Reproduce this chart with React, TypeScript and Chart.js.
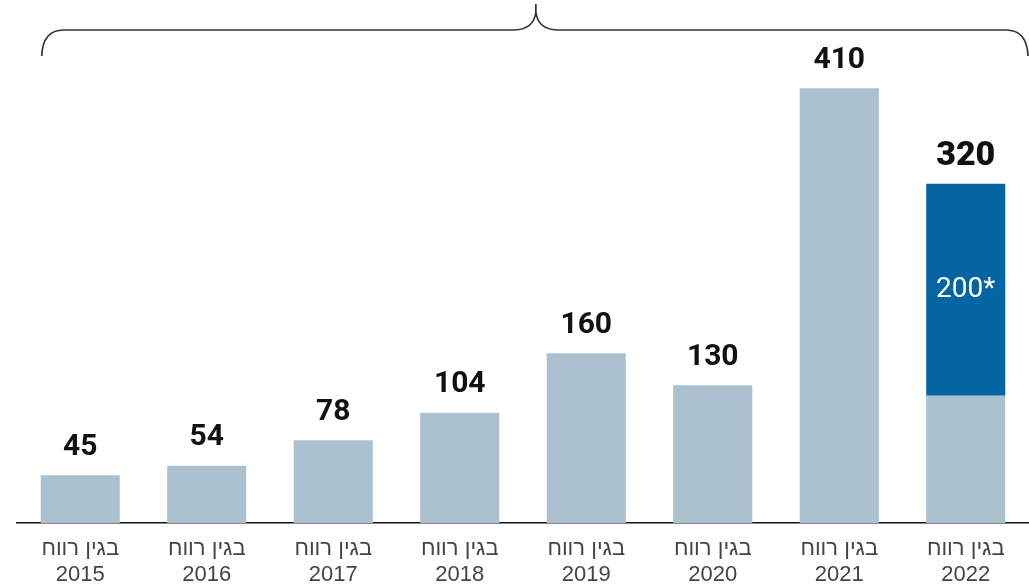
import React, { useEffect, useRef } from "react";
import { Chart, registerables } from "chart.js";

Chart.register(...registerables);

const categories: string[][] = [
  ["בגין רווח", "2015"],
  ["בגין רווח", "2016"],
  ["בגין רווח", "2017"],
  ["בגין רווח", "2018"],
  ["בגין רווח", "2019"],
  ["בגין רווח", "2020"],
  ["בגין רווח", "2021"],
  ["בגין רווח", "2022"],
];
const baseValues = [45, 54, 78, 104, 160, 130, 410, 120];
const extraValues = [0, 0, 0, 0, 0, 0, 0, 200];
const totalLabels = ["45", "54", "78", "104", "160", "130", "410", "320"];
const extraLabels = ["", "", "", "", "", "", "", "200*"];

const LIGHT = "#abc1cf";
const DARK = "#0565a3";

const labelPlugin = {
  id: "valueLabels",
  afterDatasetsDraw(chart: any) {
    const ctx = chart.ctx;
    const m0 = chart.getDatasetMeta(0);
    const m1 = chart.getDatasetMeta(1);
    ctx.save();
    ctx.textAlign = "center";
    ctx.textBaseline = "middle";
    for (let i = 0; i < baseValues.length; i++) {
      const hasExtra = extraValues[i] > 0;
      const bar = hasExtra ? m1.data[i] : m0.data[i];
      const top = bar.y;
      ctx.fillStyle = "#111";
      if (hasExtra) {
        ctx.font = "900 34px Roboto, 'DejaVu Sans', sans-serif";
        ctx.fillText(totalLabels[i], bar.x, top - 27);
        ctx.fillStyle = "#ffffff";
        ctx.font = "400 28px Roboto, 'DejaVu Sans', sans-serif";
        ctx.fillText(extraLabels[i], bar.x, (bar.y + bar.base) / 2);
      } else {
        ctx.font = "700 30px Roboto, 'DejaVu Sans', sans-serif";
        ctx.fillText(totalLabels[i], bar.x, top - 28);
      }
    }
    ctx.restore();
  },
};

const bracePlugin = {
  id: "brace",
  afterDraw(chart: any) {
    const ctx = chart.ctx;
    const m0 = chart.getDatasetMeta(0);
    const first = m0.data[0];
    const L = first.x - first.width / 2 + 1;
    const R = chart.chartArea.right - 1;
    const M = (L + R) / 2 + 1;
    const yLine = 30;
    const yEnd = 56;
    ctx.save();
    ctx.strokeStyle = "#333";
    ctx.lineWidth = 1.7;
    ctx.lineJoin = "round";
    ctx.beginPath();
    ctx.moveTo(L, yEnd);
    ctx.quadraticCurveTo(L + 1, yLine, L + 22, yLine);
    ctx.lineTo(M - 23, yLine);
    ctx.quadraticCurveTo(M - 2, yLine, M, 12);
    ctx.lineTo(M, 4);
    ctx.moveTo(M, 12);
    ctx.quadraticCurveTo(M + 2, yLine, M + 23, yLine);
    ctx.lineTo(R - 22, yLine);
    ctx.quadraticCurveTo(R - 1, yLine, R, yEnd);
    ctx.stroke();
    ctx.restore();
  },
};

export default function App() {
  const ref = useRef<HTMLCanvasElement | null>(null);
  useEffect(() => {
    if (!ref.current) return;
    const chart = new Chart(ref.current, {
      type: "bar",
      data: {
        labels: categories,
        datasets: [
          {
            data: baseValues,
            backgroundColor: LIGHT,
            barPercentage: 0.625,
            categoryPercentage: 1,
            stack: "s",
          },
          {
            data: extraValues,
            backgroundColor: DARK,
            barPercentage: 0.625,
            categoryPercentage: 1,
            stack: "s",
          },
        ],
      },
      options: {
        responsive: false,
        animation: false,
        maintainAspectRatio: false,
        layout: { padding: { top: 14, left: 17, right: 0, bottom: 0 } },
        plugins: {
          legend: { display: false },
          tooltip: { enabled: false },
        },
        scales: {
          x: {
            stacked: true,
            grid: { display: false, drawTicks: false },
            border: { display: true, color: "#111", width: 1.6 },
            ticks: {
              padding: 13,
              color: "#444",
              font: { family: "'Liberation Sans Narrow', 'Liberation Sans', 'DejaVu Sans', sans-serif", size: 22, weight: "normal", lineHeight: "26px" },
              maxRotation: 0,
              autoSkip: false,
            },
          },
          y: {
            stacked: true,
            display: false,
            min: 0,
            max: 480,
          },
        },
      },
      plugins: [labelPlugin, bracePlugin],
    });
    return () => chart.destroy();
  }, []);
  return (
    <div style={{ position: "fixed", left: 0, top: 0, width: 1029, height: 601, background: "#fff" }}>
      <canvas ref={ref} width={1029} height={601} style={{ display: "block" }} />
    </div>
  );
}
